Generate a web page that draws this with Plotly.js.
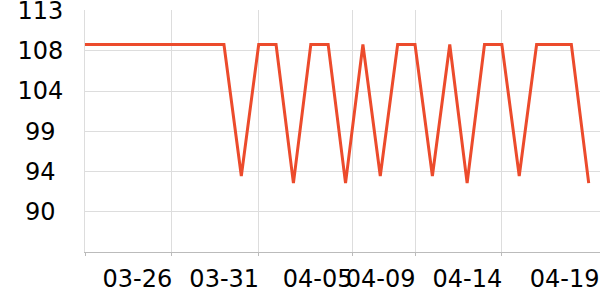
<!DOCTYPE html>
<html>
<head>
<meta charset="utf-8">
<script src="https://cdn.plot.ly/plotly-3.0.1.min.js"></script>
<style>html,body{margin:0;padding:0;background:#fff;}#chart{width:600px;height:300px;}</style>
</head>
<body>
<div id="chart"></div>
<script>
// Data
const dates = [
  '2024-03-21','2024-03-22','2024-03-23','2024-03-24','2024-03-25','2024-03-26',
  '2024-03-27','2024-03-28','2024-03-29','2024-03-30','2024-03-31','2024-04-01',
  '2024-04-02','2024-04-03','2024-04-04','2024-04-05','2024-04-06','2024-04-07',
  '2024-04-08','2024-04-09','2024-04-10','2024-04-11','2024-04-12','2024-04-13',
  '2024-04-14','2024-04-15','2024-04-16','2024-04-17','2024-04-18','2024-04-19'
];
const values = [
  108.7,108.7,108.7,108.7,108.7,108.7,108.7,108.7,108.7,94.0,
  108.7,108.7,93.2,108.7,108.7,93.2,108.7,94.0,108.7,108.7,
  94.0,108.7,93.2,108.7,108.7,94.0,108.7,108.7,108.7,93.2
];
const xGridVals = ['2024-03-21','2024-03-26','2024-03-31','2024-04-05 09:00','2024-04-09','2024-04-14'];
// label centres (labels sit just left of their grid line)
const xLabelVals = ['2024-03-24 00:24','2024-03-29 00:24','2024-04-03 09:24','2024-04-07 00:24','2024-04-12 00:24','2024-04-17 14:50'];
const xLabels = ['03-26','03-31','04-05','04-09','04-14','04-19'];
const yTickVals = [85.5, 90, 94.5, 99, 103.5, 108, 112.5];
const yTickLabels = ['', '90', '94', '99', '104', '108', '113'];
const xRange = ['2024-03-21', '2024-04-19 15:36'];
const yRange = [85.5, 112.56];

// pad shorter y labels with non-breaking spaces so they appear centred
const maxLen = Math.max(...yTickLabels.map(s => s.length));
const yTickText = yTickLabels.map(s => s === '' ? '' : s + '\u00A0'.repeat(maxLen - s.length));

const font = {family: 'DejaVu Sans, sans-serif', size: 24, color: '#000'};

const traces = [
  {
    type: 'scatter', mode: 'lines', x: dates, y: values,
    line: {color: '#ec4b2c', width: 3},
    hoverinfo: 'skip', showlegend: false
  },
  {
    type: 'scatter', mode: 'lines', x: [], y: [], xaxis: 'x2', yaxis: 'y',
    hoverinfo: 'skip', showlegend: false
  }
];

const layout = {
  width: 600, height: 300,
  margin: {l: 85, r: 0, t: 10, b: 48, pad: 0},
  paper_bgcolor: '#fff', plot_bgcolor: '#fff',
  font: font,
  showlegend: false,
  xaxis: {
    type: 'date', range: xRange,
    tickmode: 'array', tickvals: xGridVals,
    showticklabels: false,
    showgrid: true, gridcolor: '#dddddd', gridwidth: 1,
    ticks: 'outside', ticklen: 3, tickcolor: '#bbbbbb', tickwidth: 1,
    showline: true, linecolor: '#bbbbbb', linewidth: 1,
    zeroline: false, fixedrange: true
  },
  xaxis2: {
    type: 'date', range: xRange, overlaying: 'x', anchor: 'y', side: 'bottom',
    tickmode: 'array', tickvals: xLabelVals, ticktext: xLabels,
    tickangle: 0, ticklabeloverflow: 'allow',
    ticks: '', showgrid: false, showline: false, zeroline: false,
    tickfont: font, ticklabelstandoff: 10
  },
  yaxis: {
    range: yRange,
    tickmode: 'array', tickvals: yTickVals, ticktext: yTickText,
    ticklabeloverflow: 'allow',
    showgrid: true, gridcolor: '#dddddd', gridwidth: 1,
    ticks: '', showline: true, linecolor: '#dddddd', linewidth: 1,
    zeroline: false, tickfont: font, ticklabelstandoff: 16
  }
};

Plotly.newPlot('chart', traces, layout, {staticPlot: true, displayModeBar: false});
</script>
</body>
</html>
